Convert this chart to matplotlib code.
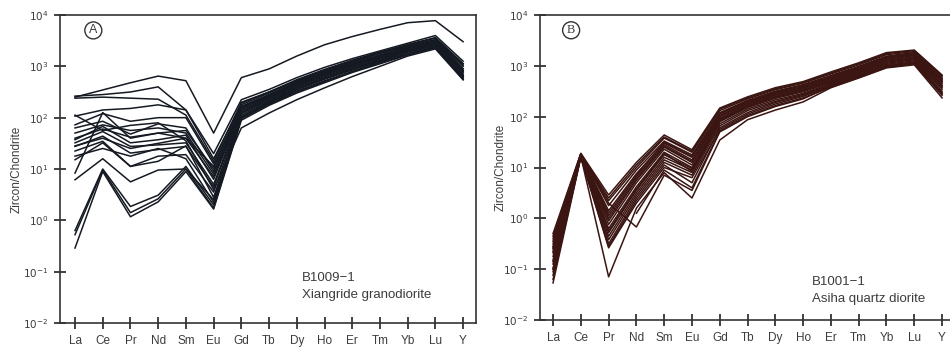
import numpy as np
import matplotlib
matplotlib.use("Agg")
import matplotlib.pyplot as plt

plt.rcParams['font.family'] = ['Liberation Sans', 'DejaVu Sans']

elements = ['La', 'Ce', 'Pr', 'Nd', 'Sm', 'Eu', 'Gd', 'Tb', 'Dy', 'Ho', 'Er', 'Tm', 'Yb', 'Lu', 'Y']
ytick_vals = [1e-2, 1e-1, 1e0, 1e1, 1e2, 1e3, 1e4]
ytick_labels = ['$10^{-2}$', '$10^{-1}$', '$10^{0}$', '$10^{1}$', '$10^{2}$', '$10^{3}$', '$10^{4}$']

# log10(zircon / chondrite)
# A: B1009-1 Xiangride granodiorite
log_a = [
    [2.40, 2.54, 2.68, 2.81, 2.72, 1.70, 2.78, 2.95, 3.20, 3.42, 3.58, 3.72, 3.85, 3.89, 3.48],
    [2.42, 2.45, 2.50, 2.60, 2.15, 1.30, 2.35, 2.55, 2.78, 2.98, 3.15, 3.30, 3.45, 3.60, 3.10],
    [2.38, 2.40, 2.38, 2.36, 2.05, 1.15, 2.30, 2.50, 2.74, 2.94, 3.12, 3.28, 3.42, 3.55, 3.05],
    [2.03, 2.15, 2.18, 2.25, 2.15, 1.20, 2.25, 2.48, 2.72, 2.92, 3.10, 3.26, 3.42, 3.55, 3.02],
    [1.86, 2.08, 1.93, 2.00, 2.00, 1.10, 2.22, 2.45, 2.70, 2.90, 3.08, 3.25, 3.40, 3.52, 3.00],
    [1.80, 1.93, 1.68, 1.88, 1.80, 0.95, 2.20, 2.44, 2.68, 2.88, 3.06, 3.22, 3.38, 3.50, 2.95],
    [1.70, 1.86, 1.75, 1.80, 1.70, 0.90, 2.18, 2.42, 2.66, 2.86, 3.04, 3.20, 3.36, 3.48, 2.92],
    [1.57, 1.83, 1.51, 1.57, 1.66, 0.80, 2.15, 2.40, 2.64, 2.84, 3.02, 3.18, 3.35, 3.46, 2.90],
    [1.51, 1.73, 1.44, 1.47, 1.51, 0.70, 2.12, 2.38, 2.62, 2.82, 3.00, 3.16, 3.33, 3.45, 2.88],
    [1.44, 1.64, 1.31, 1.38, 1.44, 0.65, 2.10, 2.36, 2.60, 2.80, 2.98, 3.14, 3.32, 3.44, 2.85],
    [1.35, 1.54, 1.05, 1.25, 1.28, 0.55, 2.08, 2.34, 2.58, 2.78, 2.96, 3.12, 3.30, 3.42, 2.83],
    [1.18, 1.51, 1.05, 1.15, 1.45, 0.45, 2.05, 2.32, 2.56, 2.76, 2.94, 3.10, 3.28, 3.40, 2.80],
    [0.92, 2.10, 1.60, 1.70, 1.75, 1.00, 2.28, 2.50, 2.72, 2.92, 3.10, 3.26, 3.42, 3.56, 3.05],
    [0.79, 1.20, 0.75, 0.98, 1.00, 0.40, 2.02, 2.30, 2.55, 2.75, 2.93, 3.10, 3.28, 3.40, 2.80],
    [-0.20, 1.00, 0.27, 0.49, 1.05, 0.30, 2.00, 2.28, 2.52, 2.72, 2.90, 3.08, 3.25, 3.38, 2.78],
    [-0.28, 0.98, 0.15, 0.42, 1.00, 0.24, 1.98, 2.26, 2.50, 2.70, 2.90, 3.06, 3.24, 3.37, 2.76],
    [-0.54, 0.95, 0.07, 0.36, 0.95, 0.22, 1.95, 2.24, 2.48, 2.68, 2.88, 3.05, 3.22, 3.36, 2.74],
    [1.45, 1.60, 1.40, 1.50, 1.60, 0.85, 2.15, 2.40, 2.64, 2.84, 3.02, 3.18, 3.34, 3.46, 2.90],
    [1.60, 1.78, 1.62, 1.70, 1.60, 1.05, 2.20, 2.44, 2.68, 2.88, 3.05, 3.22, 3.38, 3.50, 2.95],
    [2.05, 1.75, 1.85, 1.90, 1.55, 0.60, 1.80, 2.09, 2.35, 2.58, 2.80, 3.00, 3.20, 3.34, 2.74],
    [1.25, 1.40, 1.25, 1.40, 1.20, 0.35, 2.00, 2.30, 2.55, 2.76, 2.95, 3.12, 3.30, 3.42, 2.82],
]

# B: B1001-1 Asiha quartz diorite
nan = np.nan
log_b = [
    [-0.30, 1.28, 0.46, 1.10, 1.64, 1.35, 2.17, 2.39, 2.57, 2.69, 2.88, 3.06, 3.26, 3.31, 2.82],
    [-0.40, 1.27, 0.35, 1.00, 1.58, 1.30, 2.12, 2.35, 2.53, 2.66, 2.84, 3.02, 3.22, 3.28, 2.78],
    [-0.45, 1.26, 0.25, 0.95, 1.52, 1.25, 2.08, 2.32, 2.50, 2.63, 2.81, 2.99, 3.19, 3.26, 2.75],
    [-0.55, 1.25, 0.15, 0.88, 1.48, 1.20, 2.05, 2.30, 2.48, 2.61, 2.79, 2.97, 3.17, 3.24, 2.72],
    [-0.60, 1.25, 0.05, 0.82, 1.45, 1.15, 2.02, 2.28, 2.46, 2.59, 2.77, 2.95, 3.15, 3.22, 2.70],
    [-0.68, 1.24, -0.05, 0.75, 1.40, 1.10, 2.00, 2.26, 2.44, 2.57, 2.75, 2.93, 3.13, 3.20, 2.68],
    [-0.75, 1.24, -0.12, 0.70, 1.36, 1.05, 1.97, 2.24, 2.42, 2.55, 2.73, 2.91, 3.11, 3.18, 2.65],
    [-0.82, 1.23, -0.20, 0.62, 1.30, 1.00, 1.95, 2.22, 2.40, 2.53, 2.71, 2.89, 3.09, 3.16, 2.62],
    [-0.90, 1.23, -0.28, 0.55, 1.25, 0.98, 1.92, 2.20, 2.38, 2.51, 2.69, 2.87, 3.07, 3.14, 2.60],
    [-0.98, 1.22, -0.35, 0.50, 1.20, 0.95, 1.90, 2.18, 2.36, 2.49, 2.67, 2.85, 3.05, 3.12, 2.57],
    [-1.05, 1.22, -0.42, 0.45, 1.15, 0.90, 1.86, 2.15, 2.33, 2.46, 2.65, 2.83, 3.03, 3.10, 2.54],
    [-1.12, 1.21, -0.50, 0.40, 1.10, 0.85, 1.82, 2.12, 2.30, 2.44, 2.63, 2.81, 3.01, 3.08, 2.50],
    [-1.27, 1.20, -0.58, 0.30, 1.00, 0.80, 1.75, 2.05, 2.25, 2.40, 2.60, 2.78, 2.98, 3.05, 2.45],
    [-1.00, 1.22, -1.15, 0.20, 0.90, 0.40, 1.54, 1.94, 2.13, 2.29, 2.57, 2.76, 2.96, 3.02, 2.37],
    [-0.50, 1.26, 0.30, -0.17, 0.85, 0.55, 1.70, 2.00, 2.20, 2.35, 2.60, 2.80, 3.00, 3.06, 2.45],
    [-0.35, 1.27, 0.40, 1.05, 1.60, 1.32, 2.15, 2.37, 2.55, 2.67, 2.86, 3.04, 3.24, 3.30, 2.80],
    [-0.65, 1.24, 0.00, 0.78, 1.42, 1.12, 2.01, 2.27, 2.45, 2.58, 2.76, 2.94, 3.14, 3.21, 2.69],
    [-0.85, 1.23, -0.25, 0.58, 1.28, 0.92, 1.93, 2.21, 2.39, 2.52, 2.70, 2.88, 3.08, 3.15, 2.61],
    [-1.20, 1.21, -0.55, 0.35, 1.05, 0.70, 1.78, 2.08, 2.28, 2.42, 2.61, 2.79, 2.99, 3.06, 2.47],
    [-0.58, 1.25, 0.10, 0.85, 1.50, 1.22, 2.06, 2.31, 2.49, 2.62, 2.80, 2.98, 3.18, 3.25, 2.74],
    [nan, nan, nan, 0.10, 0.95, 0.60, 1.72, 2.02, 2.22, 2.37, 2.58, 2.77, 2.97, 3.04, 2.42],
]

text_col = '#3c3c3c'
x = np.arange(len(elements))

fig = plt.figure(figsize=(9.5, 3.49), dpi=100)
ax_a = fig.add_axes([0.0632, 0.0745, 0.438, 0.8825])
ax_b = fig.add_axes([0.5684, 0.083, 0.437, 0.874])


def style(ax, xlim, label_x):
    ax.set_yscale('log')
    ax.set_ylim(1e-2, 1e4)
    ax.set_xlim(*xlim)
    ax.set_xticks(x)
    ax.set_xticklabels(elements, fontsize=8.5, color=text_col)
    ax.set_yticks(ytick_vals)
    ax.set_yticklabels(ytick_labels, fontsize=7.5, color=text_col)
    ax.yaxis.set_minor_locator(matplotlib.ticker.NullLocator())
    ax.tick_params(direction='inout', length=9, width=1.2, color='#222222', pad=4)
    for s in ax.spines.values():
        s.set_color('#333333')
        s.set_linewidth(1.2)
    ax.set_ylabel('Zircon/Chondrite', fontsize=8.5, color=text_col)
    ax.yaxis.set_label_coords(label_x, 0.5)


for row in log_a:
    ax_a.plot(x, 10 ** np.array(row), color='#151a22', lw=1.1)
for row in log_b:
    ax_b.plot(x, 10 ** np.array(row), color='#3a1512', lw=1.1)

style(ax_a, (-0.54, 14.47), -0.089)
style(ax_b, (-0.47, 14.47), -0.080)

ax_a.text(0.08, 0.95, 'A', transform=ax_a.transAxes, fontsize=9, ha='center', va='center',
          color=text_col, bbox=dict(boxstyle='circle,pad=0.2', fc='white', ec='#333333', lw=1.0))
ax_b.text(0.075, 0.95, 'B', transform=ax_b.transAxes, fontsize=9, ha='center', va='center',
          color=text_col, family='Liberation Serif',
          bbox=dict(boxstyle='circle,pad=0.2', fc='white', ec='#333333', lw=1.0))

ax_a.text(0.582, 0.146, 'B1009\u22121', transform=ax_a.transAxes, fontsize=9.5, color=text_col, va='center')
ax_a.text(0.582, 0.091, 'Xiangride granodiorite', transform=ax_a.transAxes, fontsize=9.5,
          color=text_col, va='center')
ax_b.text(0.655, 0.125, 'B1001\u22121', transform=ax_b.transAxes, fontsize=9.5, color=text_col, va='center')
ax_b.text(0.655, 0.068, 'Asiha quartz diorite', transform=ax_b.transAxes, fontsize=9.5,
          color=text_col, va='center')

fig.savefig('out.png', dpi=100)
